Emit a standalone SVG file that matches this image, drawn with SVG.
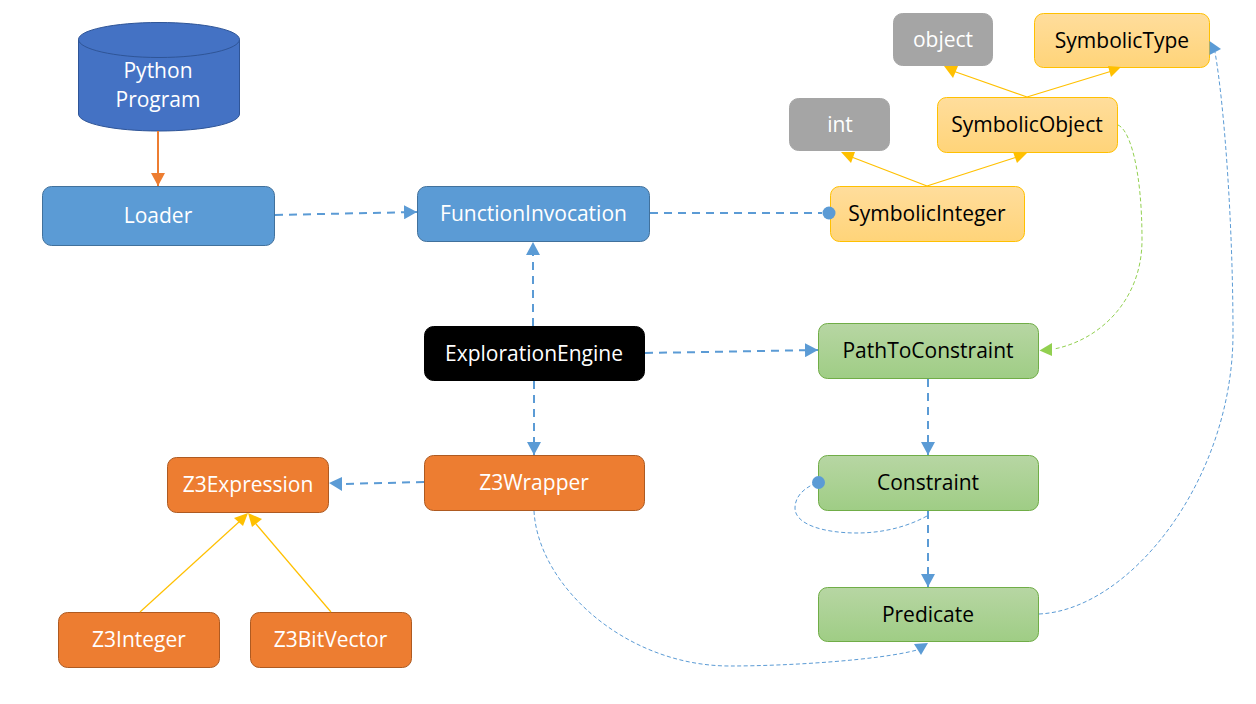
<svg xmlns="http://www.w3.org/2000/svg" width="1256" height="704" viewBox="0 0 1256 704">
<style>
text{font-family:"Open Sans","Noto Sans","Liberation Sans",sans-serif;font-size:21px;text-anchor:middle;dominant-baseline:central}
.w{fill:#fff}.k{fill:#000}
.blue{fill:#5b9bd5;stroke:#41719c;stroke-width:1}
.dark{fill:#4472c4;stroke:#2f5597;stroke-width:1}
.org{fill:#ed7d31;stroke:#ae5a21;stroke-width:1}
.gray{fill:#a5a5a5;stroke:#a5a5a5;stroke-width:1}
.blk{fill:#000;stroke:#000;stroke-width:1}
.yel{fill:url(#gy);stroke:#ffc000;stroke-width:1}
.grn{fill:url(#gg);stroke:#70ad47;stroke-width:1}
.c{fill:none}
.d2{stroke:#5b9bd5;stroke-width:2;stroke-dasharray:8 6}
.d1{stroke:#5b9bd5;stroke-width:1;stroke-dasharray:4 2.500}
.g1{stroke:#92d050;stroke-width:1;stroke-dasharray:4 2.500}
.y1{stroke:#ffc000;stroke-width:1.200}
.o2{stroke:#ed7d31;stroke-width:2}
.hb{fill:#5b9bd5}.hy{fill:#ffc000}.hg{fill:#92d050}
</style>
<defs>
<linearGradient id="gy" x1="0" y1="0" x2="0" y2="1"><stop offset="0" stop-color="#ffdd9c"/><stop offset="1" stop-color="#ffd479"/></linearGradient>
<linearGradient id="gg" x1="0" y1="0" x2="0" y2="1"><stop offset="0" stop-color="#b7d6a3"/><stop offset="1" stop-color="#9fcd85"/></linearGradient>
<marker id="ab" markerUnits="userSpaceOnUse" markerWidth="14" markerHeight="14" refX="13" refY="7" orient="auto"><path d="M0 0L13 7L0 14Z" fill="#5b9bd5"/></marker>
<marker id="ao" markerUnits="userSpaceOnUse" markerWidth="14" markerHeight="14" refX="13" refY="7" orient="auto"><path d="M0 0L13 7L0 14Z" fill="#ed7d31"/></marker>
</defs>
<rect width="1256" height="704" fill="#fff"/>

<g id="python-program">
<path class="dark" d="M78.500 39.500C78.500 30 114 22.500 159 22.500C204 22.500 239.500 30 239.500 39.500V114C239.500 123.500 204 131 159 131C114 131 78.500 123.500 78.500 114Z"/>
<path class="c" stroke="#2f5597" d="M78.500 39.500C78.500 49 114 57.500 159 57.500C204 57.500 239.500 49 239.500 39.500"/>
<text class="w" x="158" y="70">Python</text>
<text class="w" x="158" y="99">Program</text>
</g>
<g id="loader"><rect class="blue" x="42.500" y="186.500" width="232" height="59" rx="9"/><text class="w" x="158" y="215">Loader</text></g>
<g id="function-invocation"><rect class="blue" x="417.500" y="186.500" width="232" height="55" rx="9"/><text class="w" x="533.500" y="213">FunctionInvocation</text></g>
<g id="exploration-engine"><rect class="blk" x="424.500" y="326.500" width="220" height="54" rx="9"/><text class="w" x="534" y="353">ExplorationEngine</text></g>
<g id="z3-wrapper"><rect class="org" x="424.500" y="455.500" width="220" height="55" rx="9"/><text class="w" x="534" y="482">Z3Wrapper</text></g>
<g id="z3-expression"><rect class="org" x="167.500" y="457.500" width="161" height="55" rx="9"/><text class="w" x="248" y="484">Z3Expression</text></g>
<g id="z3-integer"><rect class="org" x="58.500" y="612.500" width="161" height="55" rx="9"/><text class="w" x="139" y="639">Z3Integer</text></g>
<g id="z3-bitvector"><rect class="org" x="250.500" y="612.500" width="161" height="55" rx="9"/><text class="w" x="330.500" y="639">Z3BitVector</text></g>
<g id="object"><rect class="gray" x="893.500" y="13.500" width="99" height="52" rx="9"/><text class="w" x="943" y="39">object</text></g>
<g id="symbolic-type"><rect class="yel" x="1034.500" y="13.500" width="175" height="54" rx="9"/><text class="k" x="1122" y="40">SymbolicType</text></g>
<g id="int"><rect class="gray" x="789.500" y="98.500" width="100" height="52" rx="9"/><text class="w" x="840" y="124">int</text></g>
<g id="symbolic-object"><rect class="yel" x="937.500" y="97.500" width="180" height="55" rx="9"/><text class="k" x="1027" y="124">SymbolicObject</text></g>
<g id="symbolic-integer"><rect class="yel" x="830.500" y="186.500" width="194" height="55" rx="9"/><text class="k" x="927" y="213">SymbolicInteger</text></g>
<g id="path-to-constraint"><rect class="grn" x="818.500" y="323.500" width="220" height="55" rx="9"/><text class="k" x="928" y="350">PathToConstraint</text></g>
<g id="constraint"><rect class="grn" x="818.500" y="455.500" width="220" height="55" rx="9"/><text class="k" x="928" y="482">Constraint</text></g>
<g id="predicate"><rect class="grn" x="818.500" y="587.500" width="220" height="54" rx="9"/><text class="k" x="928" y="614">Predicate</text></g>

<g id="connectors">
<path class="c o2" d="M158 131V186" marker-end="url(#ao)"/>
<path class="c d2" d="M275 215L417 212" marker-end="url(#ab)"/>
<path class="c d2" d="M650 213L822 213"/>
<circle cx="829" cy="213" r="6.500" fill="#5b9bd5"/>
<path class="c d2" d="M533 326V242" marker-end="url(#ab)"/>
<path class="c d2" d="M645 353L818 350" marker-end="url(#ab)"/>
<path class="c d2" d="M534 381V455" marker-end="url(#ab)"/>
<path class="c d2" d="M424 482L342 484"/>
<polygon class="hb" points="329,483 342,477 342,491"/>
<path class="c d2" d="M928 379V455" marker-end="url(#ab)"/>
<path class="c d2" d="M928 511V587" marker-end="url(#ab)"/>
<path class="c y1" d="M927 186L849 156"/>
<polygon class="hy" points="841,152 855,152 851,163"/>
<path class="c y1" d="M927 186L1017 157"/>
<polygon class="hy" points="1027,153 1013,152 1017,163"/>
<path class="c y1" d="M1027 97L953 71"/>
<polygon class="hy" points="944,66 958,66 953,78"/>
<path class="c y1" d="M1027 97L1112 71"/>
<polygon class="hy" points="1121,67 1108,66 1111,77"/>
<path class="c y1" d="M140 612L240 521"/>
<polygon class="hy" points="248,513 234,518 243,526"/>
<path class="c y1" d="M331 612L256 524"/>
<polygon class="hy" points="248,513 262,519 252,527"/>
<path class="c g1" d="M1118 125C1130 130 1142 170 1142 240C1142 300 1100 340 1054 349"/>
<polygon class="hg" points="1039.500,350.500 1052,343 1052,356"/>
<path class="c d1" d="M927 516C905 528 880 533 857 533C825 533 795 525 795 508C795 497 803 489 814 484"/>
<circle cx="818.500" cy="482.500" r="6.500" fill="#5b9bd5"/>
<path class="c d1" d="M534 511C538 585 625 666 730 666C790 666 880 660 917 650"/>
<polygon class="hb" points="914,644 928,643 921,655"/>
<path class="c d1" d="M1039 614C1130 610 1233 480 1233 333C1233 230 1225 110 1215 52"/>
<polygon class="hb" points="1209.500,41 1221,49 1209.500,55"/>
</g>
</svg>
